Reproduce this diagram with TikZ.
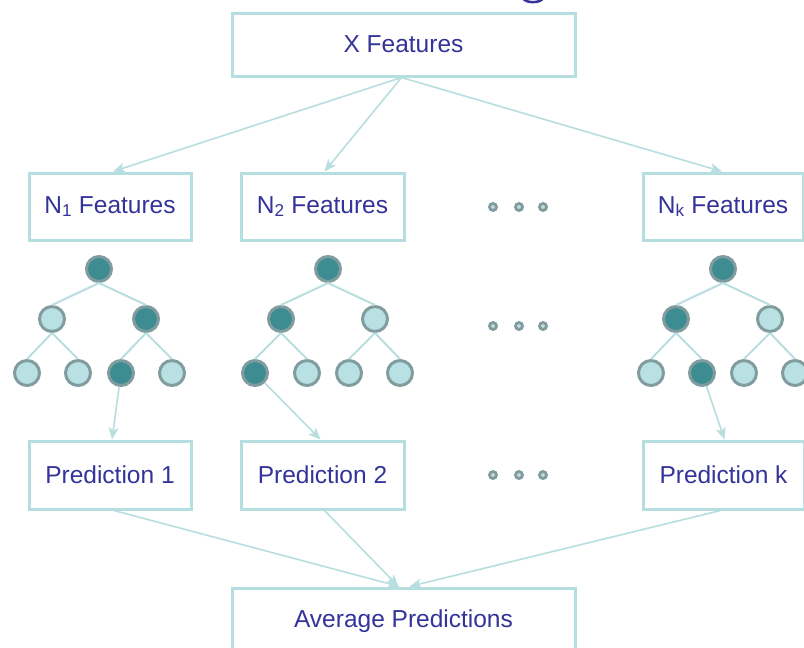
\documentclass[tikz,border=0pt]{standalone}
\usepackage{fontspec}
\setmainfont{Liberation Sans}
\usetikzlibrary{arrows.meta,shadows,calc}
\definecolor{txtblue}{RGB}{51,51,153}
\definecolor{boxline}{RGB}{180,222,224}
\definecolor{shadowgray}{RGB}{165,175,177}
\definecolor{lightnode}{RGB}{185,224,226}
\definecolor{darknode}{RGB}{60,140,146}
\definecolor{ringgray}{RGB}{128,156,158}
\definecolor{edgecol}{RGB}{184,222,224}
\definecolor{dotfill}{RGB}{200,220,222}
\begin{document}
\begin{tikzpicture}[x=1pt,y=-1pt,
  box/.style={draw=boxline, line width=3pt, fill=white, text=txtblue,
    font=\fontsize{24.5}{29}\selectfont, inner sep=0pt,
    drop shadow={shadow xshift=2pt, shadow yshift=-2pt, fill=shadowgray, opacity=1}},
  tn/.style={circle, draw=ringgray, line width=3pt, minimum size=25pt, inner sep=0pt},
  lt/.style={tn, fill=lightnode},
  dk/.style={tn, fill=darknode},
  dotnode/.style={circle, draw=ringgray, line width=2.8pt, fill=dotfill, minimum size=7pt, inner sep=0pt},
  tedge/.style={draw=edgecol, line width=2pt},
  arr/.style={draw=edgecol, line width=1.6pt, -{Stealth[length=12pt,width=10pt,inset=3pt]}}
]
\useasboundingbox (0,0) rectangle (804,648);
\fill[white] (0,0) rectangle (804,648);

% cut-off title glyph fragment
\draw[txtblue, line width=2.5pt] (523,-2) .. controls (525,3.5) and (541,3.5) .. (543,-2);

% boxes
\node[box, minimum width=343pt, minimum height=63pt] (X) at (403.5,44.5) {X Features};
\node[box, minimum width=162pt, minimum height=67pt] (N1) at (110,206.5) {N\textsubscript{1} Features};
\node[box, minimum width=163pt, minimum height=67pt] (N2) at (322.5,206.5) {N\textsubscript{2} Features};
\node[box, minimum width=160pt, minimum height=67pt] (Nk) at (723,206.5) {N\textsubscript{k} Features};
\node[box, minimum width=162pt, minimum height=68pt] (P1) at (110,475) {Prediction 1};
\node[box, minimum width=163pt, minimum height=68pt] (P2) at (322.5,475) {Prediction 2};
\node[box, minimum width=161pt, minimum height=68pt] (Pk) at (723.5,475) {Prediction k};
\node[box, minimum width=343pt, minimum height=66pt] (A) at (403.5,621) {Average Predictions};

% tree 1
\node[dk] (t1r) at (99,269) {};
\node[lt] (t1a) at (52,319) {};
\node[dk] (t1b) at (146,319) {};
\node[lt] (t1c) at (27,373) {};
\node[lt] (t1d) at (78,373) {};
\node[dk] (t1e) at (121,373) {};
\node[lt] (t1f) at (172,373) {};
% tree 2
\node[dk] (t2r) at (328,269) {};
\node[dk] (t2a) at (281,319) {};
\node[lt] (t2b) at (375,319) {};
\node[dk] (t2c) at (255,373) {};
\node[lt] (t2d) at (307,373) {};
\node[lt] (t2e) at (349,373) {};
\node[lt] (t2f) at (400,373) {};
% tree k
\node[dk] (tkr) at (723,269) {};
\node[dk] (tka) at (676,319) {};
\node[lt] (tkb) at (770,319) {};
\node[lt] (tkc) at (651,373) {};
\node[dk] (tkd) at (702,373) {};
\node[lt] (tke) at (744,373) {};
\node[lt] (tkf) at (795,373) {};

\foreach \t in {t1,t2,tk}{
  \draw[tedge] (\t r.south) -- (\t a.north);
  \draw[tedge] (\t r.south) -- (\t b.north);
  \draw[tedge] (\t a.south) -- (\t c.north);
  \draw[tedge] (\t a.south) -- (\t d.north);
  \draw[tedge] (\t b.south) -- (\t e.north);
  \draw[tedge] (\t b.south) -- (\t f.north);
}

% ellipsis dots
\foreach \r/\y in {1/207,2/326,3/475}{
  \node[dotnode] (d\r a) at (493,\y) {};
  \node[dotnode] (d\r b) at (519,\y) {};
  \node[dotnode] (d\r c) at (543,\y) {};
}

% arrows
\coordinate (xs) at ($(X.south)+(-2,0)$);
\draw[arr] (xs) -- ($(N1.north)+(3,0)$);
\draw[arr] (xs) -- ($(N2.north)+(2,0)$);
\draw[arr] (xs) -- ($(Nk.north)+(-1,0)$);
\draw[arr] (t1e) -- ($(P1.north)+(2,0)$);
\draw[arr] (t2c) -- ($(P2.north)+(-2,0)$);
\draw[arr] (tkd) -- ($(Pk.north)+(1,0)$);
\draw[arr] ($(P1.south)+(4,0)$) -- ($(A.north)+(-4,0)$);
\draw[arr] ($(P2.south)+(2,0)$) -- ($(A.north)+(-5,0)$);
\draw[arr] ($(Pk.south)+(-3,0)$) -- ($(A.north)+(6,0)$);
\end{tikzpicture}
\end{document}
